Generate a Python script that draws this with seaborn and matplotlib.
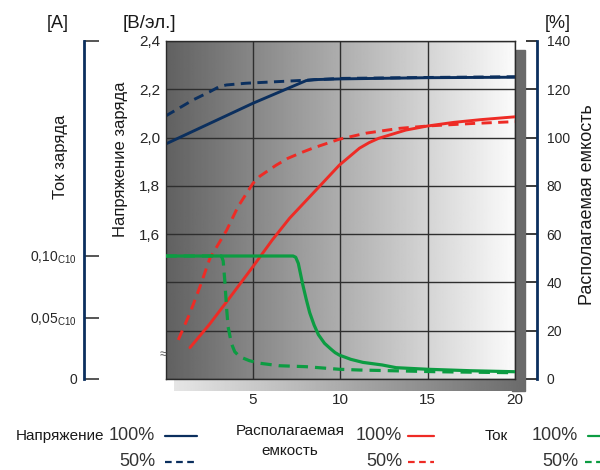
import numpy as np
import matplotlib
matplotlib.use("Agg")
import matplotlib.pyplot as plt
from matplotlib.lines import Line2D
from matplotlib.patches import Rectangle
import seaborn as sns

# ===== DATA =====
hour_ticks = [5, 10, 15, 20]
volt_ticks = [1.6, 1.8, 2.0, 2.2, 2.4]
cap_ticks = [0, 20, 40, 60, 80, 100, 120, 140]
cur_ticks = [0, 0.05, 0.10]
cur_labels = ["0", "0,05$_{\\mathregular{C10}}$", "0,10$_{\\mathregular{C10}}$"]

# charging voltage, V/cell
volt100_x = [0, 5, 8.05, 8.5, 10, 15, 20]
volt100_y = [1.973, 2.142, 2.236, 2.240, 2.243, 2.248, 2.250]
volt50_x = [0, 1.58, 2.54, 3.1, 3.5, 4.6, 7.6, 10, 15, 20]
volt50_y = [2.089, 2.156, 2.190, 2.212, 2.218, 2.225, 2.236, 2.245, 2.249, 2.252]

# available capacity, %
cap100_x = [1.4, 2.5, 3.5, 5, 6.1, 7.1, 8.8, 9.95, 11.1, 11.65, 12.2, 13.75, 15, 16.5, 18, 20]
cap100_y = [13, 22.5, 32, 46.5, 57.5, 66.6, 79.7, 88.6, 95.6, 97.9, 99.7, 103.1, 104.8, 106.3, 107.4, 108.6]
cap50_x = [0.73, 1.4, 1.97, 2.54, 3.49, 4.15, 5.0, 5.4, 6.34, 7.0, 7.85, 8.42, 9.94, 11.46, 13.36, 15, 17.5, 20]
cap50_y = [16.2, 27.3, 38.2, 50, 61.5, 71.4, 81, 84, 88.6, 91.4, 94.0, 95.6, 99.3, 101.8, 103.8, 104.8, 105.8, 106.6]

# charging current, x C10
cur100_x = [0, 7.3, 7.45, 7.6, 7.85, 8.05, 8.25, 8.5, 8.75, 9.1, 9.45, 9.7, 9.95, 10.3, 10.6,
            11.3, 12.4, 13.2, 15.0, 17.5, 20]
cur100_y = [0.100, 0.100, 0.099, 0.094, 0.077, 0.065, 0.054, 0.044, 0.036, 0.029, 0.0245, 0.0215,
            0.0194, 0.0176, 0.016, 0.0135, 0.0114, 0.0092, 0.0079, 0.0067, 0.0059]
cur50_x = [0, 3.2, 3.3, 3.39, 3.49, 3.58, 3.77, 3.96, 4.25, 4.8, 5.4, 6.5, 8.05, 9.95, 11.1, 15.6, 20]
cur50_y = [0.100, 0.100, 0.096, 0.0805, 0.0589, 0.0426, 0.029, 0.0222, 0.0181, 0.0149, 0.0128, 0.0108,
           0.0100, 0.0079, 0.0073, 0.0059, 0.0051]

NAVY = "#0b2f5e"
RED = "#ee2b25"
GREEN = "#0c9c42"
DASH = (0, (3.5, 2.2))

# ===== STYLE =====
sns.set_style("white")
plt.rcParams["font.family"] = ["Liberation Sans", "DejaVu Sans"]
plt.rcParams["mathtext.fontset"] = "custom"
plt.rcParams["mathtext.rm"] = "Liberation Sans"
plt.rcParams["text.color"] = "#1a1a1a"

W, H = 600, 470
fig = plt.figure(figsize=(6, 4.7), dpi=100)


def fx(x):
    return x / W


def fy(y):
    return 1 - y / H


# ===== SHADOWS behind the plot =====
ax_sh = fig.add_axes([fx(174), fy(391), fx(525 - 174), 11 / H])
ax_sh.imshow(np.linspace(0.9, 0.42, 256)[None, :], cmap="gray", vmin=0, vmax=1,
             aspect="auto", extent=(0, 1, 0, 1))
ax_sh.axis("off")
ax_sh.set_zorder(-2)
fig.add_artist(Rectangle((fx(512), fy(391)), fx(13), 341 / H, transform=fig.transFigure,
                         color="#6a6a6a", zorder=-3))

# ===== MAIN AXES (voltage) =====
ax = fig.add_axes([fx(165.5), fy(379), fx(349.5), 338 / H])
ax.set_xlim(0, 20)
ax.set_ylim(1.0, 2.4)
ax.imshow(np.linspace(0.38, 0.985, 256)[None, :], cmap="gray", vmin=0, vmax=1,
          aspect="auto", extent=(0, 20, 1.0, 2.4), zorder=0)
ax.set_xticks(hour_ticks)
ax.set_xticklabels([str(t) for t in hour_ticks], fontsize=11)
grid_v = np.round(np.arange(1.0, 2.41, 0.2), 1)
ax.set_yticks(grid_v)
ax.set_yticklabels([("%.1f" % v).replace(".", ",") if v in volt_ticks else "" for v in grid_v],
                   fontsize=11)
ax.tick_params(axis="both", length=0)
ax.tick_params(axis="x", pad=10)
ax.tick_params(axis="y", pad=4)
ax.grid(True, color="#2e2e2e", lw=1)
for s in ax.spines.values():
    s.set_color("#2a2a2a")
    s.set_linewidth(1)

sns.lineplot(x=volt100_x, y=volt100_y, ax=ax, color=NAVY, linewidth=2.1, legend=False)
sns.lineplot(x=volt50_x, y=volt50_y, ax=ax, color=NAVY, linewidth=2.1, linestyle=DASH, legend=False)
ax.set_xlabel("")
ax.set_ylabel("")

# ===== CAPACITY (right axis) =====
ax_p = ax.twinx()
sns.lineplot(x=cap100_x, y=cap100_y, ax=ax_p, color=RED, linewidth=2.1, legend=False)
sns.lineplot(x=cap50_x, y=cap50_y, ax=ax_p, color=RED, linewidth=2.1, linestyle=DASH, legend=False)
ax_p.set_ylim(0, 140)
ax_p.set_xlim(0, 20)
ax_p.set_yticks(cap_ticks)
ax_p.set_yticklabels([str(t) for t in cap_ticks], fontsize=11)
ax_p.set_ylabel("")
for k in ["left", "top", "bottom"]:
    ax_p.spines[k].set_visible(False)
ax_p.spines["right"].set_position(("axes", 1 + 22 / 349.5))
ax_p.spines["right"].set_color(NAVY)
ax_p.spines["right"].set_linewidth(2)
ax_p.tick_params(axis="y", right=True, direction="in", length=8, width=1.4, color="#3a3a3a", pad=7)

# ===== CURRENT (left outer axis) =====
ax_i = ax.twinx()
sns.lineplot(x=cur100_x, y=cur100_y, ax=ax_i, color=GREEN, linewidth=2.3, legend=False)
sns.lineplot(x=cur50_x, y=cur50_y, ax=ax_i, color=GREEN, linewidth=2.3, linestyle=DASH, legend=False)
ax_i.set_ylim(0, 0.10 * 338 / 123)
ax_i.set_xlim(0, 20)
ax_i.yaxis.set_ticks_position("left")
ax_i.yaxis.set_label_position("left")
ax_i.set_yticks(cur_ticks + [0.10 * 338 / 123])
ax_i.set_yticklabels(cur_labels + [""], fontsize=11)
ax_i.set_ylabel("")
for k in ["right", "top", "bottom"]:
    ax_i.spines[k].set_visible(False)
ax_i.spines["left"].set_visible(True)
ax_i.spines["left"].set_position(("axes", -81.5 / 349.5))
ax_i.spines["left"].set_color(NAVY)
ax_i.spines["left"].set_linewidth(2)
ax_i.tick_params(axis="y", left=True, right=False, labelleft=True, labelright=False,
                 direction="in", length=11, width=1.4, color="#555555", pad=5)

# ===== AXIS TITLES =====
fig.text(fx(58), fy(24), "[A]", fontsize=13, ha="center", va="center")
fig.text(fx(149), fy(24), "[В/эл.]", fontsize=13.5, ha="center", va="center")
fig.text(fx(558), fy(23), "[%]", fontsize=13, ha="center", va="center")
fig.text(fx(60), fy(157), "Ток заряда", fontsize=12, rotation=90, ha="center", va="center")
fig.text(fx(121), fy(159), "Напряжение заряда", fontsize=12, rotation=90, ha="center", va="center")
fig.text(fx(587), fy(205), "Располагаемая емкость", fontsize=13, rotation=90, ha="center", va="center")
fig.text(fx(163), fy(355), "≈", fontsize=9, color="#555555", ha="center", va="center")

# ===== LEGEND =====
def leg_line(x0, x1, y, color, ls):
    fig.add_artist(Line2D([fx(x0), fx(x1)], [fy(y), fy(y)], transform=fig.transFigure,
                          color=color, lw=1.6, linestyle=ls))


fig.text(fx(104), fy(436), "Напряжение", fontsize=11, ha="right", va="center")
fig.text(fx(155), fy(436), "100%", fontsize=13, ha="right", va="center", color="#333333")
fig.text(fx(155), fy(462), "50%", fontsize=13, ha="right", va="center", color="#333333")
leg_line(165, 197, 436, NAVY, "-")
leg_line(165, 197, 462, NAVY, (0, (3, 2)))

fig.text(fx(290), fy(431), "Располагаемая", fontsize=11, ha="center", va="center")
fig.text(fx(290), fy(451), "емкость", fontsize=11, ha="center", va="center")
fig.text(fx(402), fy(436), "100%", fontsize=13, ha="right", va="center", color="#333333")
fig.text(fx(402), fy(462), "50%", fontsize=13, ha="right", va="center", color="#333333")
leg_line(408, 434, 436, RED, "-")
leg_line(408, 434, 462, RED, (0, (3, 2)))

fig.text(fx(508), fy(436), "Ток", fontsize=11, ha="right", va="center")
fig.text(fx(578), fy(436), "100%", fontsize=13, ha="right", va="center", color="#333333")
fig.text(fx(578), fy(462), "50%", fontsize=13, ha="right", va="center", color="#333333")
leg_line(588, 605, 436, GREEN, "-")
leg_line(585, 605, 462, GREEN, (0, (3, 2)))

fig.savefig("out.png", dpi=100)
